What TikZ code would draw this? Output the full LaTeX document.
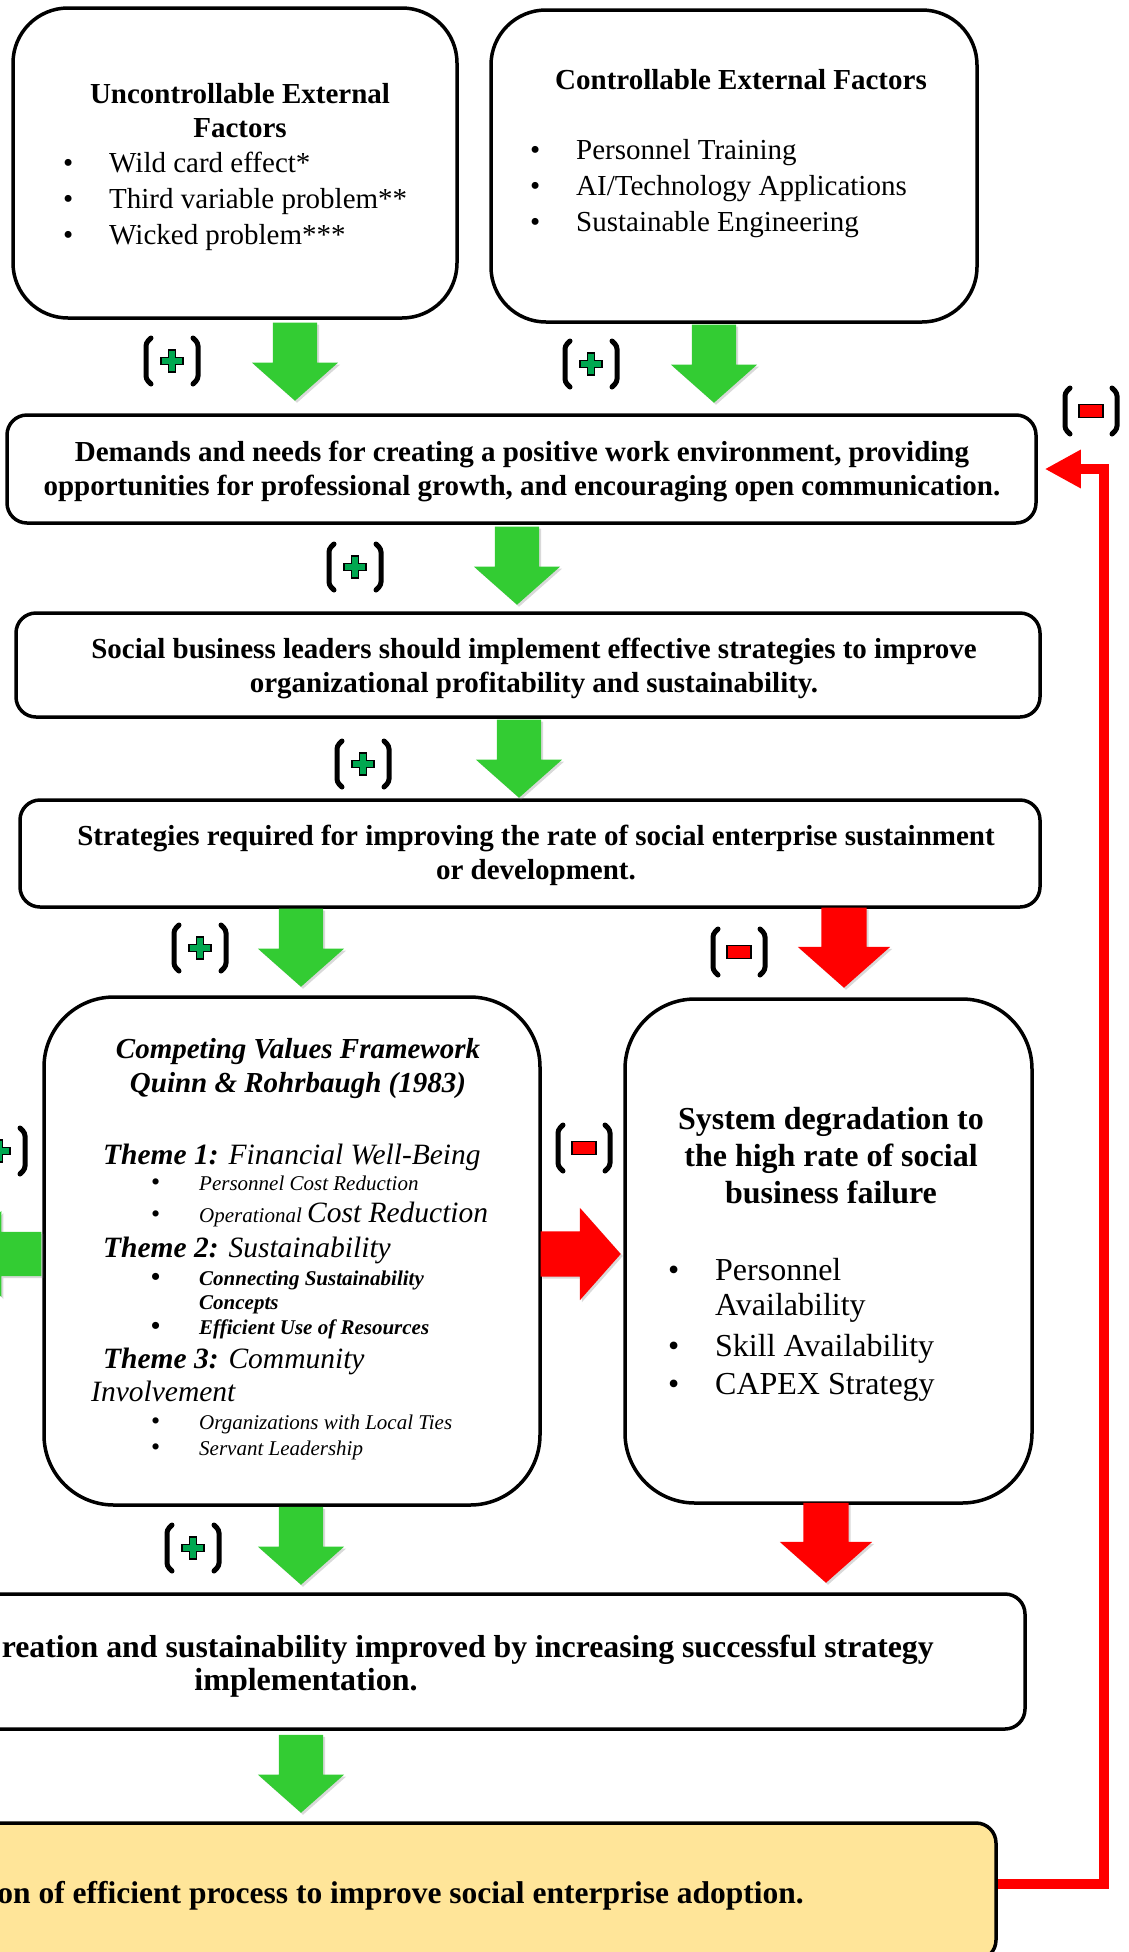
\documentclass[tikz,border=0pt]{standalone}
\usepackage{fontspec}
\setmainfont{Liberation Serif}
\setsansfont{Liberation Sans}
\usetikzlibrary{shapes.arrows,shadows,arrows.meta}

\definecolor{arrgreen}{RGB}{51,204,51}
\definecolor{arrred}{RGB}{255,0,0}
\definecolor{crossgreen}{RGB}{0,168,80}
\definecolor{goalyellow}{RGB}{255,229,153}

\newcommand\fsz[2]{\fontsize{#1}{#2}\selectfont}
\newcommand\bul[1]{\makebox[#1][l]{\textbullet}}
\newcommand\subbul[1]{\makebox[#1][l]{\fsz{26}{26}\upshape\textbullet}}

% (+) and (-) signs: brackets round a small cross or bar
\newcommand\signbrackets[1]{%
  \draw[brak, shift={(#1.center)}] (-21,-23) -- (-26,-18) -- (-26,18) -- (-21,23);
  \draw[brak, shift={(#1.center)}] (21,-23) -- (26,-18) -- (26,18) -- (21,23);}
\newcommand\plusmark[2]{%
  \node[signlab] (#1) at (#2) {};
  \signbrackets{#1}
  \filldraw[signline, fill=crossgreen, shift={(#1.center)}] (-3.5,-11) -- (3.5,-11) -- (3.5,-3.5) -- (11,-3.5) -- (11,3.5) -- (3.5,3.5) -- (3.5,11) -- (-3.5,11) -- (-3.5,3.5) -- (-11,3.5) -- (-11,-3.5) -- (-3.5,-3.5) -- cycle;}
\newcommand\minusmark[2]{%
  \node[signlab] (#1) at (#2) {};
  \signbrackets{#1}
  \filldraw[signline, fill=arrred, shift={(#1.center)}] (-12,-6.5) rectangle (12,6.5);}

\begin{document}
\begin{tikzpicture}[x=1pt, y=-1pt,
    box/.style={draw, line width=3.5pt, fill=white, inner sep=0pt, rectangle},
    hd/.style={font=\bfseries\fsz{29}{34}, align=center, inner sep=0pt},
    bighd/.style={hd, font=\bfseries\fsz{32}{38}},
    itm/.style={font=\fsz{29}{34}, anchor=base west, inner sep=0pt},
    theme/.style={font=\itshape\fsz{29.5}{34}, anchor=base west, inner sep=0pt},
    sub/.style={font=\itshape\fsz{21}{24}, anchor=base west, inner sep=0pt},
    bsub/.style={sub, font=\bfseries\itshape\fsz{21}{24}},
    gitem/.style={itm, font=\fsz{32}{36}},
    signlab/.style={minimum width=58pt, minimum height=46pt, inner sep=0pt},
    brak/.style={line width=5pt, rounded corners=3pt, line cap=round},
    signline/.style={draw=black, line width=1.5pt},
    garr/.style={single arrow, anchor=tip, fill=arrgreen, inner sep=22pt, minimum height=78pt, single arrow head extend=21pt, single arrow tip angle=97, drop shadow={opacity=.3, shadow xshift=2pt, shadow yshift=-2pt}},
    rarr/.style={garr, fill=arrred, inner sep=22.5pt, minimum height=80pt, single arrow head extend=23.5pt},
    pointdown/.style={shape border rotate=270},
    pointleft/.style={shape border rotate=180},
    pointright/.style={shape border rotate=0},
    feedback/.style={draw=arrred, line width=10pt, -{Triangle[length=36pt,width=36pt]}, shorten >=7pt}]
\useasboundingbox (0,0) rectangle (1128,1952);
\clip (0,0) rectangle (1128,1952);

% boxes
\node[box, rounded corners=55pt, minimum width=444pt, minimum height=310pt] (A) at (235,163) {};
\node[box, rounded corners=55pt, minimum width=486pt, minimum height=312pt] (B) at (734,166) {};
\node[box, rounded corners=20pt, minimum width=1029pt, minimum height=108pt] (C) at (521.5,469) {};
\node[box, rounded corners=20pt, minimum width=1024pt, minimum height=104pt] (D) at (528,665) {};
\node[box, rounded corners=20pt, minimum width=1020pt, minimum height=107pt] (E) at (530,853.5) {};
\node[box, rounded corners=70pt, minimum width=496pt, minimum height=508pt] (F) at (292,1251) {};
\node[box, rounded corners=70pt, minimum width=407pt, minimum height=504pt] (G) at (828.5,1251) {};
\node[box, rounded corners=20pt, minimum width=1325pt, minimum height=135pt] (H) at (362.5,1661.5) {};
\node[box, rounded corners=20pt, minimum width=1296pt, minimum height=137pt, fill=goalyellow] (I) at (348,1891.5) {};

% texts
\node[hd] (Ahead) at (240,111) {Uncontrollable External\\Factors};
\foreach \t [count=\i] in {Wild card effect*, Third variable problem**, Wicked problem***}
  \node[itm] (a\i) at (63,136+36*\i) {\bul{46pt}\t};
\node[hd] (Bhead) at (741,80) {Controllable External Factors};
\foreach \t [count=\i] in {Personnel Training, AI/Technology Applications, Sustainable Engineering}
  \node[itm] (b\i) at (530,123+36*\i) {\bul{46pt}\t};

\node[hd] (Ctext) at (522,471) {Demands and needs for creating a positive work environment, providing\\opportunities for professional growth, and encouraging open communication.};
\node[hd] (Dtext) at (534,668) {Social business leaders should implement effective strategies to improve\\organizational profitability and sustainability.};
\node[hd] (Etext) at (536,855) {Strategies required for improving the rate of social enterprise sustainment\\or development.};

\node[hd, font=\bfseries\itshape\fsz{29}{34}] (Ftitle) at (298,1069) {Competing Values Framework\\Quinn \& Rohrbaugh (1983)};
\node[theme] (t1) at (103,1164) {\textbf{Theme 1:} Financial Well-Being};
\node[sub] (s1) at (151,1190) {\subbul{48pt}Personnel Cost Reduction};
\node[sub] (s2) at (151,1222) {\subbul{48pt}Operational {\fsz{29.5}{34}Cost Reduction}};
\node[theme] (t2) at (103,1257) {\textbf{Theme 2:} Sustainability};
\node[bsub] (s3) at (151,1285) {\subbul{48pt}Connecting Sustainability};
\node[bsub] (s3b) at (199,1309) {Concepts};
\node[bsub] (s4) at (151,1334) {\subbul{48pt}Efficient Use of Resources};
\node[theme] (t3) at (103,1368) {\textbf{Theme 3:} Community};
\node[theme] (t3b) at (91,1401) {Involvement};
\node[sub] (s5) at (151,1429) {\subbul{48pt}Organizations with Local Ties};
\node[sub] (s6) at (151,1455) {\subbul{48pt}Servant Leadership};

\node[hd, font=\bfseries\fsz{32}{37}] (Gtitle) at (831,1156) {System degradation to\\the high rate of social\\business failure};
\node[gitem] (g1) at (668,1280) {\bul{47pt}Personnel};
\node[gitem] (g1b) at (715,1315) {Availability};
\node[gitem] (g2) at (668,1356) {\bul{47pt}Skill Availability};
\node[gitem] (g3) at (668,1394) {\bul{47pt}CAPEX Strategy};

\node[bighd, anchor=base east, font=\bfseries\fsz{31.8}{38}] (Htext) at (934,1657) {reation and sustainability improved by increasing successful strategy};
\node[bighd] (Htext2) at (306,1683) {implementation.};
\node[bighd, anchor=base east, font=\bfseries\fsz{31.5}{38}] (Itext) at (804,1903) {on of efficient process to improve social enterprise adoption.};

% block arrows, placed by their tips
\node[garr, pointdown] (ga1) at (295,401) {};
\node[garr, pointdown] (ga2) at (714,403) {};
\node[garr, pointdown] (ga3) at (517,605) {};
\node[garr, pointdown] (ga4) at (519,798) {};
\node[garr, pointdown] (ga5) at (301,987) {};
\node[rarr, pointdown] (ra1) at (844,988) {};
\node[garr, pointleft] (ga6) at (-37,1254) {};
\node[rarr, pointright] (ra2) at (621,1254) {};
\node[garr, pointdown] (ga7) at (301,1585) {};
\node[rarr, pointdown] (ra3) at (826,1583) {};
\node[garr, pointdown] (ga8) at (301,1813) {};

% signs
\plusmark{p1}{172,361}
\plusmark{p2}{591,364}
\minusmark{m1}{1091,411}
\plusmark{p3}{355,567}
\plusmark{p4}{363,764}
\plusmark{p5}{200,948}
\minusmark{m2}{739,952}
\plusmark{p6}{-1,1151}
\minusmark{m3}{584,1148}
\plusmark{p7}{193,1548}

% feedback loop
\draw[feedback] ([yshift=8pt]I.east) -- ++(106,0) |- (C.east);
\end{tikzpicture}
\end{document}
